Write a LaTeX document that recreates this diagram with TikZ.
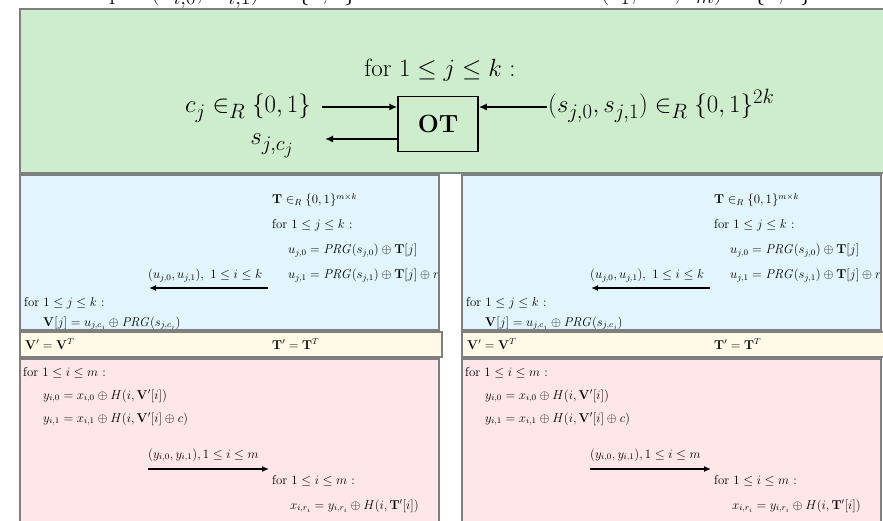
\documentclass[tikz,border=0pt]{standalone}
\usepackage{amsmath,amssymb}
\usetikzlibrary{arrows.meta}
\definecolor{gfill}{HTML}{CDEDCC}
\definecolor{bfill}{HTML}{E2F5FD}
\definecolor{yfill}{HTML}{FFF9E7}
\definecolor{pfill}{HTML}{FFE7E9}
\definecolor{bord}{HTML}{7F7F7F}
\newcommand{\sm}[1]{\scalebox{1.07}{#1}}
\newcommand{\mypanels}[1]{%
  % blue
  \begin{scope}
    \clip (20,175) rectangle (439,330);
    \fill[bfill] (20,175) rectangle (439,330);
    \node[small] (#1T) at (272,204) {\sm{$\mathbf{T}\in_R\{0,1\}^{m\times k}$}};
    \node[small] (#1f1) at (272,229) {\sm{for $1\le j\le k$ :}};
    \node[small] (#1u0) at (288,254) {\sm{$u_{j,0}=\mathit{PRG}(s_{j,0})\oplus\mathbf{T}[j]$}};
    \node[small] (#1u1) at (288,279) {\sm{$u_{j,1}=\mathit{PRG}(s_{j,1})\oplus\mathbf{T}[j]\oplus r$}};
    \node[small] (#1ul) at (148,279) {\sm{$(u_{j,0},u_{j,1}),\ 1\le i\le k$}};
    \coordinate (#1ua) at (268,288);
    \coordinate (#1ub) at (149,288);
    \draw[arr] (#1ua) -- (#1ub);
    \node[small] (#1f2) at (24,306) {\sm{for $1\le j\le k$ :}};
    \node[small] (#1V) at (43,326) {\sm{$\mathbf{V}[j]=u_{j,c_j}\oplus\mathit{PRG}(s_{j,c_j})$}};
  \end{scope}
  \draw[panel] (20,175) rectangle (439,330);
  % yellow
  \draw[panel, fill=yfill] (20,332) rectangle (442,357);
  \node[small] (#1Vt) at (25,349) {\sm{$\mathbf{V}'=\mathbf{V}^T$}};
  \node[small] (#1Tt) at (272,349) {\sm{$\mathbf{T}'=\mathbf{T}^T$}};
  % pink
  \begin{scope}
    \clip (20,359) rectangle (439,530);
    \fill[pfill] (20,359) rectangle (439,530);
    \node[small] (#1f3) at (23,376) {\sm{for $1\le i\le m$ :}};
    \node[small] (#1y0) at (43,399) {\sm{$y_{i,0}=x_{i,0}\oplus H(i,\mathbf{V}'[i])$}};
    \node[small] (#1y1) at (43,422) {\sm{$y_{i,1}=x_{i,1}\oplus H(i,\mathbf{V}'[i]\oplus c)$}};
    \node[small] (#1yl) at (148,458) {\sm{$(y_{i,0},y_{i,1}),1\le i\le m$}};
    \coordinate (#1ya) at (148,469);
    \coordinate (#1yb) at (269,469);
    \draw[arr] (#1ya) -- (#1yb);
    \node[small] (#1f4) at (272,484) {\sm{for $1\le i\le m$ :}};
    \node[small] (#1x) at (290,509) {\sm{$x_{i,r_i}=y_{i,r_i}\oplus H(i,\mathbf{T}'[i])$}};
  \end{scope}
  \draw[panel] (20,359) rectangle (439,530);
}
\begin{document}
\begin{tikzpicture}[x=1pt,y=-1pt,
 panel/.style={draw=bord, line width=1.5pt},
 big/.style={font=\fontsize{24.88}{30}\selectfont, inner sep=0pt},
 small/.style={font=\fontsize{12}{14}\selectfont, inner sep=0pt, anchor=base west},
 arr/.style={line width=1.6pt, -{Latex[length=7pt,width=6pt]}},
 arrbig/.style={line width=2pt, -{Latex[length=8pt,width=7pt]}},
]
\useasboundingbox (0,0) rectangle (883,521);
% top (clipped) inputs
\node[big, anchor=base west] (inx) at (90,-0.5) {input $(x_{i,0},\ x_{i,1})\ \in\{0,1\}$};
\node[big, anchor=base west] (inr) at (557,-0.5) {$r=(r_1,\ldots,r_m)\in\{0,1\}^m$};
% green OT panel
\draw[panel, fill=gfill] (20,9) rectangle (900,173);
\node[big, anchor=base] (forj) at (440,77) {for $1\le j\le k$ :};
\node[draw=black, line width=1.5pt, minimum width=80pt, minimum height=55pt,
      inner sep=0pt, font=\fontsize{24.88}{30}\selectfont\bfseries] (ot) at (438,124) {OT};
\node[big, anchor=base east] (cj) at (311,113) {$c_j\in_R\{0,1\}$};
\node[big, anchor=base west] (sj) at (548,113) {$(s_{j,0},s_{j,1})\in_R\{0,1\}^{2k}$};
\node[big, anchor=base] (sjc) at (272,145) {$s_{j,c_j}$};
\coordinate (ca) at (322,107);
\coordinate (sa) at (547,107);
\coordinate (oa) at (325,139);
\draw[arrbig] (ca) -- (ot.west |- ca);
\draw[arrbig] (sa) -- (ot.east |- sa);
\draw[arrbig] (ot.west |- oa) -- (oa);
% left party panels
\mypanels{L}
% right party panels
\begin{scope}[xshift=442pt]
\mypanels{R}
\end{scope}
\end{tikzpicture}
\end{document}
